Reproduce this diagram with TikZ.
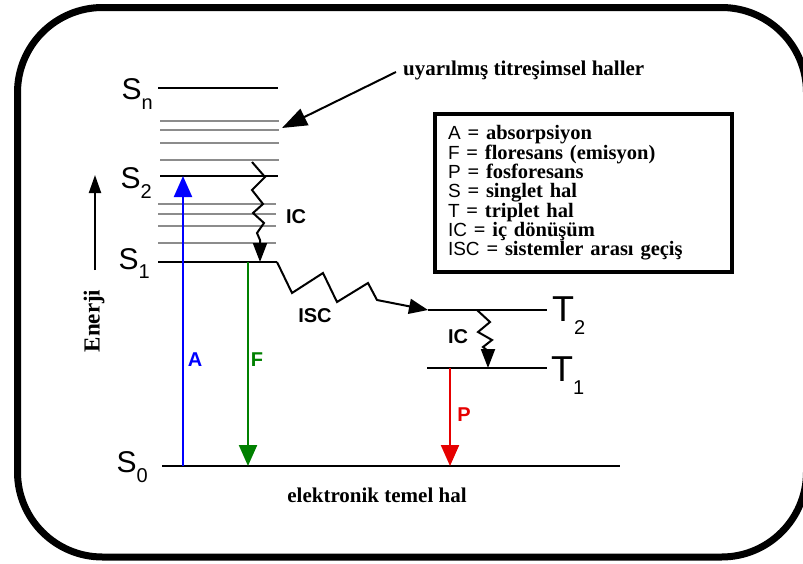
\documentclass[tikz,border=0pt]{standalone}
\usepackage{fontspec}
\setmainfont{Liberation Serif}
\setsansfont{Liberation Sans}
\usetikzlibrary{arrows.meta}
\definecolor{fgreen}{RGB}{0,128,0}
\definecolor{pred}{RGB}{230,0,0}
\definecolor{vgray}{RGB}{140,140,140}
\newcommand{\statename}[3]{#1\raisebox{-#3}{\fontsize{20}{20}\selectfont #2}}
\newcommand{\keysym}[1]{{\sffamily\mdseries\fontsize{19}{19.3}\selectfont #1}}
\begin{document}
\begin{tikzpicture}[
    x=1pt, y=-1pt,
    level/.style={line width=2.6pt, color=black},
    vib/.style={line width=2.4pt, color=vgray},
    statelbl/.style={font=\sffamily\fontsize{30}{30}\selectfont, inner sep=0pt, anchor=base west},
    tripletlbl/.style={font=\sffamily\fontsize{36}{36}\selectfont, inner sep=0pt, anchor=base west},
    translbl/.style={font=\sffamily\bfseries\fontsize{20}{20}\selectfont, inner sep=0pt},
    noteslbl/.style={font=\bfseries\fontsize{21}{21}\selectfont, inner sep=0pt},
    radarrow/.style={line width=2.2pt, -{Triangle[length=21pt,width=18pt]}},
    wavearrow/.style={line width=2pt, line join=miter, -{Triangle[length=19pt,width=14pt]}},
    legendbox/.style={draw, line width=3.3pt, inner xsep=13pt, inner ysep=0pt,
        minimum width=297pt, minimum height=158pt, text width=271pt, align=left,
        font=\bfseries\fontsize{20.5}{19.3}\selectfont},
]
\clip (0,0) rectangle (803,563);
\draw[line width=7pt, rounded corners=85pt] (17.5,7.5) rectangle (806.5,557);

% energy levels
\coordinate (Snl) at (158,88);  \coordinate (Snr) at (278,88);
\coordinate (S2l) at (160,176); \coordinate (S2r) at (278,176);
\coordinate (S1l) at (158,262); \coordinate (S1r) at (277,262);
\coordinate (S0l) at (162,466); \coordinate (S0r) at (620,466);
\coordinate (T2l) at (428,310); \coordinate (T2r) at (547,310);
\coordinate (T1l) at (427,368); \coordinate (T1r) at (547,368);
\foreach \y in {121,130,143,160} \draw[vib] (160,\y) -- (279,\y);
\foreach \y in {204,214,226,243} \draw[vib] (158,\y) -- (276,\y);
\foreach \a/\b in {Snl/Snr,S2l/S2r,S1l/S1r,S0l/S0r,T2l/T2r,T1l/T1r}
    \draw[level] (\a) -- (\b);

\node[statelbl] (Sn) at (121.5,99)  {\statename{S}{n}{10pt}};
\node[statelbl] (S2) at (120.5,188) {\statename{S}{2}{10pt}};
\node[statelbl] (S1) at (118.5,269) {\statename{S}{1}{9pt}};
\node[statelbl] (S0) at (116.5,472) {\statename{S}{0}{10pt}};
\node[tripletlbl] (T2) at (552,321) {\statename{T}{2}{13pt}};
\node[tripletlbl] (T1) at (551,381) {\statename{T}{1}{13pt}};

% radiative transitions
\coordinate (Abot) at (183,466); \coordinate (Atop) at (183,176);
\coordinate (Ftop) at (248,262); \coordinate (Fbot) at (248,466);
\coordinate (Ptop) at (450,368); \coordinate (Pbot) at (450,466);
\draw[radarrow, blue] (Abot) -- (Atop);
\draw[radarrow, fgreen] (Ftop) -- (Fbot);
\draw[radarrow, pred] (Ptop) -- (Pbot);
\node[translbl, blue] (Alab) at (195,360) {A};
\node[translbl, fgreen] (Flab) at (257,360) {F};
\node[translbl, pred] (Plab) at (464,415) {P};

% non-radiative transitions
\coordinate (ICa) at (252,162); \coordinate (ICb) at (260,262);
\draw[wavearrow] (ICa) -- ++(13,15) -- ++(-13,13) -- ++(11,14) -- ++(-10,9)
    -- ++(11,10) -- ++(-7,10) -- ++(3,7) -- (ICb);
\node[translbl] (IClab) at (296,217) {IC};
\draw[wavearrow, -{Triangle[length=19pt,width=15pt]}] (S1r) -- ++(15,31) -- ++(31,-20)
    -- ++(14,29) -- ++(31,-19) -- ++(9,17) -- (T2l);
\node[translbl] (ISClab) at (315,316) {ISC};
\coordinate (ICc) at (477,310); \coordinate (ICd) at (488,368);
\draw[wavearrow] (ICc) -- ++(13,12) -- ++(-12,10) -- ++(14,8) -- ++(-9,7)
    -- ++(5,4) -- (ICd);
\node[translbl] (IClow) at (458,337) {IC};

% energy axis
\coordinate (Ebot) at (95,270); \coordinate (Etop) at (95,175);
\draw[line width=2pt, -{Triangle[length=18pt,width=12pt]}] (Ebot) -- (Etop);
\node[noteslbl, font=\bfseries\fontsize{23}{23}\selectfont, rotate=90] (Elab) at (94,321) {Enerji};

% notes
\node[noteslbl, anchor=west] (vibnote) at (403,70) {uyarılmış titreşimsel haller};
\coordinate (vibtip) at (282,128);
\draw[line width=2pt, -{Triangle[length=25pt,width=18pt]}] (vibnote.west) ++(-7,2) -- (vibtip);
\node[noteslbl] (ground) at (377,495) {elektronik temel hal};

\node[legendbox] (key) at (583.5,193) {%
    \keysym{A} = absorpsiyon\\
    \keysym{F} = floresans (emisyon)\\
    \keysym{P} = fosforesans\\
    \keysym{S} = singlet hal\\
    \keysym{T} = triplet hal\\
    \keysym{IC} = iç dönüşüm\\
    \keysym{ISC} = sistemler arası geçiş};
\end{tikzpicture}
\end{document}
